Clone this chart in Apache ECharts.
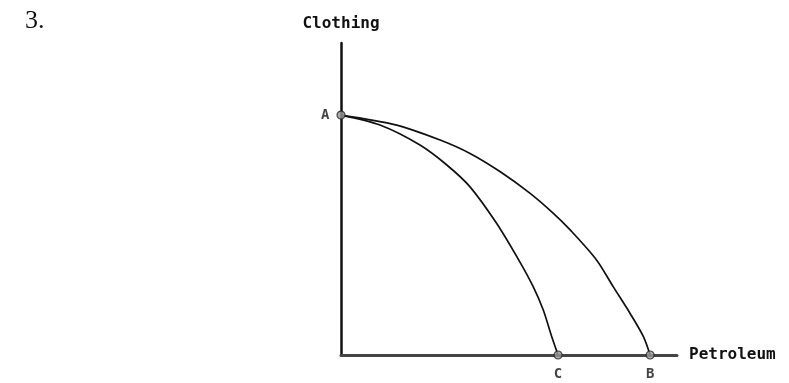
<!DOCTYPE html>
<html>
<head>
<meta charset="utf-8">
<style>
html,body{margin:0;padding:0;background:#fff;}
#chart{width:789px;height:383px;}
</style>
<script src="https://cdn.jsdelivr.net/npm/echarts@6/dist/echarts.min.js"></script>
</head>
<body>
<div id="chart"></div>
<script>
// Data (arbitrary units: Petroleum 0-100, Clothing 0-100)
const frontierC = [[0,76.9],[11.6,73.7],[23.5,67.3],[31.5,60.9],[38.4,53.9],[46.3,42.2],[53.3,29.7],[57.2,21.9],[60.2,14.4],[62.7,5.9],[64.6,0]];
const frontierB = [[0,76.9],[16.6,73.7],[29.5,68.9],[38.4,64.6],[47.3,58.8],[56.3,51.8],[63.2,45.4],[68.2,40.1],[76.1,30.4],[81.0,21.9],[86.0,13.4],[90.0,5.9],[92.0,0]];
const pointNames = ['A','C','B'];
const pointValues = [[0,76.9],[64.6,0],[92.0,0]];
const xName = 'Petroleum';
const yName = 'Clothing';
const problemNumber = '3.';

const labelFont = {fontFamily:'DejaVu Sans Mono', fontWeight:'bold', fontSize:15, color:'#111'};

const chart = echarts.init(document.getElementById('chart'), null, {renderer:'canvas'});
chart.setOption({
  animation:false,
  backgroundColor:'#fff',
  title:{text:problemNumber, left:20, top:3, textStyle:{fontFamily:'Liberation Serif', fontWeight:'normal', fontSize:26, color:'#111'}},
  grid:{left:341, right:112, top:43, bottom:28, containLabel:false},
  xAxis:{type:'value', min:0, max:100, name:xName, nameLocation:'end', nameGap:12,
    nameTextStyle:Object.assign({}, labelFont, {fontSize:16, verticalAlign:'middle'}),
    axisLine:{show:true, lineStyle:{color:'#444', width:3}}, axisTick:{show:false}, axisLabel:{show:false}, splitLine:{show:false}},
  yAxis:{type:'value', min:0, max:100, name:yName, nameLocation:'end', nameGap:11,
    nameTextStyle:Object.assign({}, labelFont, {fontSize:16, align:'center'}),
    axisLine:{show:true, lineStyle:{color:'#111', width:2.5}}, axisTick:{show:false}, axisLabel:{show:false}, splitLine:{show:false}},
  series:[
    {type:'line', data:frontierC, smooth:0.3, showSymbol:false, lineStyle:{color:'#111', width:1.7}, z:2},
    {type:'line', data:frontierB, smooth:0.3, showSymbol:false, lineStyle:{color:'#111', width:1.7}, z:2},
    {type:'scatter', symbol:'circle', symbolSize:8, z:5,
      itemStyle:{color:'#999', borderColor:'#222', borderWidth:1.2},
      data:pointNames.map((n,i)=>({name:n, value:pointValues[i],
        label:{show:true, formatter:n, position: n==='A'?'left':'bottom', distance: n==='A'?7:8,
          fontFamily:'DejaVu Sans Mono', fontWeight:'bold', fontSize:14, color:'#111'}}))}
  ]
});
</script>
</body>
</html>
